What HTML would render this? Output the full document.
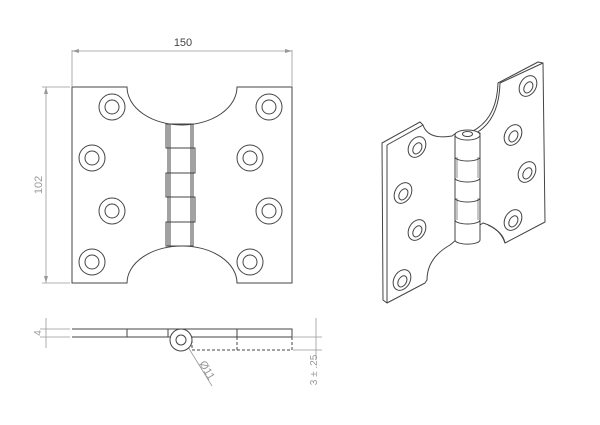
<!DOCTYPE html>
<html><head><meta charset="utf-8"><style>
html,body{margin:0;padding:0;background:#fff;}
svg{display:block;}
text{font-family:"Liberation Sans",sans-serif;fill:#444;}
</style></head><body>
<svg width="600" height="425" viewBox="0 0 600 425" xmlns="http://www.w3.org/2000/svg">
<g fill="none" stroke="#444" stroke-width="1">
<path d="M72,87 H127 A55,38 0 0 0 237,87 H292 V283 H237 A55,37 0 0 0 127,283 H72 Z"/>
<rect x="168" y="124" width="25" height="122"/>
<path d="M170,124 V246 M191,124 V246"/>
<path d="M168,148 H193 M168,173 H193 M168,197 H193 M168,222 H193"/>
<path d="M193,148 h2 v25 h-2 M193,197 h2 v25 h-2 M168,124 h-2 v24 h2 M168,173 h-2 v24 h2 M168,222 h-2 v24 h2"/>
<g>
<circle cx="112" cy="107" r="13"/><circle cx="112" cy="107" r="7"/>
<circle cx="269" cy="107" r="13"/><circle cx="269" cy="107" r="7"/>
<circle cx="92" cy="158" r="13"/><circle cx="92" cy="158" r="7"/>
<circle cx="250" cy="158" r="13"/><circle cx="250" cy="158" r="7"/>
<circle cx="112" cy="211" r="13"/><circle cx="112" cy="211" r="7"/>
<circle cx="269" cy="211" r="13"/><circle cx="269" cy="211" r="7"/>
<circle cx="92" cy="262" r="13"/><circle cx="92" cy="262" r="7"/>
<circle cx="250" cy="262" r="13"/><circle cx="250" cy="262" r="7"/>
</g>
</g>
<g fill="none" stroke="#999" stroke-width="0.8">
<path d="M72,50 V86 M292,50 V86 M72,51 H292"/>
<path d="M42,87 H70 M42,283 H70 M46,87 V283"/>
<path d="M40,329 H70 M40,337 H70 M46,318 V348"/>
<path d="M293,337 H322 M293,350 H322 M316,318 V360"/>
<path d="M188,347 L212,386"/>
</g>
<g fill="#999">
<path d="M72,51 l7,-2 v4 z M292,51 l-7,-2 v4 z"/>
<path d="M46,87 l-2,7 h4 z M46,283 l-2,-7 h4 z"/>
</g>
<text x="183" y="46" font-size="11" text-anchor="middle">150</text>
<text font-size="11" text-anchor="middle" transform="translate(42,185) rotate(-90)" style="fill:#999">102</text>
<text font-size="10" text-anchor="middle" transform="translate(41,333) rotate(-90)" style="fill:#999">4</text>
<text font-size="10" text-anchor="middle" transform="translate(317,370) rotate(-90)" style="fill:#999">3 ± .25</text>
<text font-size="11" text-anchor="middle" transform="translate(204,372) rotate(60)" style="fill:#999">Ø11</text>
<g fill="none" stroke="#444" stroke-width="1">
<path d="M72,329 H292 V337 H190 M170,337 H72 Z"/>
<path d="M127,329 V337 M168,329 V337 M237,329 V337"/>
<circle cx="181" cy="340" r="11" fill="#fff"/>
<circle cx="181" cy="340" r="5"/>
<path d="M192,337 H292 V350 H192 Z M237,337 V350" stroke-dasharray="3,2"/>
</g>
<g fill="#fff" stroke="#444" stroke-width="1" stroke-linejoin="round">
<!-- right leaf -->
<path d="M498,83 L538,62 L543,63 L545,222 L505,243 Q500,228 483,223 L480,225 L480,133 L473,131 Q497,118 498,83 Z"/>
<path d="M500,83 L543,63" fill="none"/>
<path d="M500,83 Q499,120 476,133" fill="none"/>
<path d="M505,243 Q503,232 488,225" fill="none"/>
<!-- left leaf -->
<path d="M382,143 L420,122 L423,125 Q428,140 452,136 L456,133 L456,240 L450,245 Q427,258 427,280 L425,283 L387,303 L383,300 Z"/>
<path d="M387,145 L423,125 M387,145 V303" fill="none"/>
<!-- knuckle -->
<path d="M455,135 V240 A12,4 0 0 0 480,240 V135 Z"/>
<ellipse cx="467.5" cy="135" rx="12.5" ry="5"/>
<ellipse cx="467.5" cy="134" rx="5" ry="2.5"/>
<path d="M455,157 A12.5,4 0 0 0 480,157 M455,178 A12.5,4 0 0 0 480,178 M455,198 A12.5,4 0 0 0 480,198 M455,220 A12.5,4 0 0 0 480,220" fill="none"/>
<path d="M457,157 v21 M478,157 v21 M457,198 v22 M478,198 v22" fill="none" stroke-width="0.6"/>
</g>
<g fill="none" stroke="#444" stroke-width="1">
<g transform="translate(417,147) rotate(30)"><ellipse rx="8" ry="11"/><ellipse cx="1" cy="1" rx="4" ry="6"/></g>
<g transform="translate(403,193) rotate(30)"><ellipse rx="8" ry="11"/><ellipse cx="1" cy="1" rx="4" ry="6"/></g>
<g transform="translate(417,230) rotate(30)"><ellipse rx="8" ry="11"/><ellipse cx="1" cy="1" rx="4" ry="6"/></g>
<g transform="translate(402,280) rotate(30)"><ellipse rx="8" ry="11"/><ellipse cx="1" cy="1" rx="4" ry="6"/></g>
<g transform="translate(528,86) rotate(30)"><ellipse rx="8" ry="11"/><ellipse cx="1" cy="1" rx="4" ry="6"/></g>
<g transform="translate(513,135) rotate(30)"><ellipse rx="8" ry="11"/><ellipse cx="1" cy="1" rx="4" ry="6"/></g>
<g transform="translate(527,172) rotate(30)"><ellipse rx="8" ry="11"/><ellipse cx="1" cy="1" rx="4" ry="6"/></g>
<g transform="translate(513,220) rotate(30)"><ellipse rx="8" ry="11"/><ellipse cx="1" cy="1" rx="4" ry="6"/></g>
</g>
</svg>
</body></html>
